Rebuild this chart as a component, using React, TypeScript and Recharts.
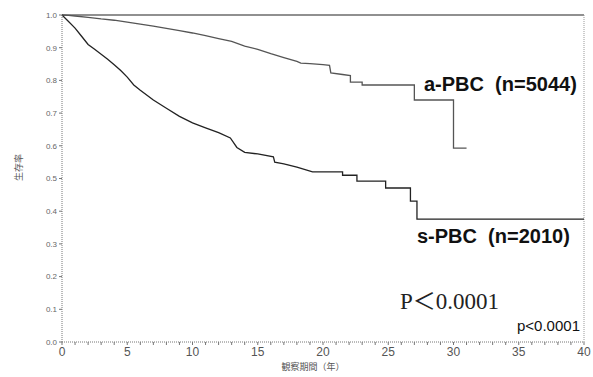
import { LineChart, Line, XAxis, YAxis, ReferenceLine } from 'recharts';

// a-PBC survival (years, proportion)
const aTime = [0, 0.5, 1, 2, 3, 4, 5, 6, 7, 8, 9, 10, 11, 12, 13, 14, 15, 16, 17, 18, 18.3, 19, 20, 20.5, 20.6, 21.5, 22.1, 22.1, 23.0, 23.0, 27.0, 27.0, 30.0, 30.0, 31.0];
const aSurv = [1.0, 0.999, 0.997, 0.993, 0.988, 0.984, 0.978, 0.972, 0.966, 0.959, 0.952, 0.945, 0.937, 0.928, 0.919, 0.905, 0.895, 0.882, 0.870, 0.858, 0.853, 0.851, 0.848, 0.846, 0.823, 0.818, 0.815, 0.795, 0.795, 0.786, 0.786, 0.74, 0.74, 0.593, 0.593];

// s-PBC survival
const sTime = [0, 0.5, 1, 1.5, 2, 2.5, 3, 3.5, 4, 4.5, 5, 5.5, 6, 7, 8, 9, 10, 11, 12, 12.9, 13.4, 14, 15, 16.2, 16.3, 17, 18, 19.2, 21.5, 21.5, 22.6, 22.6, 24.8, 24.8, 26.7, 26.7, 27.2, 27.2, 40];
const sSurv = [1.0, 0.98, 0.96, 0.935, 0.91, 0.895, 0.88, 0.865, 0.848, 0.83, 0.81, 0.786, 0.77, 0.74, 0.715, 0.69, 0.67, 0.655, 0.64, 0.624, 0.595, 0.58, 0.575, 0.566, 0.55, 0.545, 0.535, 0.52, 0.52, 0.51, 0.51, 0.492, 0.492, 0.471, 0.471, 0.431, 0.431, 0.376, 0.376];

const xTicks = Array.from({ length: 41 }, (_, i) => i);
const yTicks = [0, 0.1, 0.2, 0.3, 0.4, 0.5, 0.6, 0.7, 0.8, 0.9, 1.0];

const aData = aTime.map((t, i) => ({ t, s: aSurv[i] }));
const sData = sTime.map((t, i) => ({ t, s: sSurv[i] }));

const sans = '"Liberation Sans", Arial, sans-serif';
const cjk = '"Noto Sans CJK JP", sans-serif';

export default function App() {
    return (
        <div style={{ position: 'relative', width: 593, height: 377, background: '#fff', fontFamily: sans }}>
            <style>{'body{margin:0}'}</style>
            <LineChart width={593} height={377} margin={{ top: 15, right: 9, bottom: 0, left: 0 }}>
                <XAxis
                    type="number"
                    dataKey="t"
                    domain={[0, 40]}
                    ticks={xTicks}
                    interval={0}
                    height={35}
                    tickFormatter={(v) => (v % 5 === 0 ? String(v) : '')}
                    tick={{ fontSize: 12, fill: '#555' }}
                    tickSize={3}
                    stroke="#777"
                    axisLine={{ stroke: '#777', strokeDasharray: '1 1' }}
                />
                <YAxis
                    type="number"
                    domain={[0, 1]}
                    ticks={yTicks}
                    width={62}
                    tickFormatter={(v) => Number(v).toFixed(1)}
                    tick={{ fontSize: 8, fill: '#666' }}
                    tickSize={3}
                    stroke="#777"
                    axisLine={{ stroke: '#777', strokeDasharray: '1 1' }}
                />
                <ReferenceLine y={1} stroke="#222" strokeWidth={1.2} />
                <ReferenceLine x={40} stroke="#999" strokeDasharray="1 1" />
                <Line data={aData} dataKey="s" type="linear" stroke="#555" strokeWidth={1.3} dot={false} isAnimationActive={false} />
                <Line data={sData} dataKey="s" type="linear" stroke="#222" strokeWidth={1.3} dot={false} isAnimationActive={false} />
            </LineChart>
            <div style={{ position: 'absolute', left: 8, top: 152, width: 20, height: 30, display: 'flex', alignItems: 'center', justifyContent: 'center' }}>
                <span style={{ transform: 'rotate(-90deg)', fontSize: 9, color: '#555', fontFamily: cjk, whiteSpace: 'nowrap' }}>生存率</span>
            </div>
            <div style={{ position: 'absolute', left: 263, top: 361, width: 100, textAlign: 'center', fontSize: 9, color: '#555', fontFamily: cjk, lineHeight: '12px' }}>
                観察期間（年）
            </div>
            <div style={{ position: 'absolute', left: 424, top: 72, fontSize: 20, fontWeight: 'bold', color: '#111', whiteSpace: 'pre', lineHeight: '24px' }}>
                a-PBC  (n=5044)
            </div>
            <div style={{ position: 'absolute', left: 417, top: 224, fontSize: 20, fontWeight: 'bold', color: '#111', whiteSpace: 'pre', lineHeight: '24px' }}>
                s-PBC  (n=2010)
            </div>
            <div style={{ position: 'absolute', left: 400, top: 285, fontSize: 23, color: '#222', fontFamily: '"Liberation Serif", "Times New Roman", serif', whiteSpace: 'nowrap', lineHeight: '28px' }}>
                P<span style={{ fontFamily: cjk }}>＜</span>0.0001
            </div>
            <div style={{ position: 'absolute', left: 517, top: 317, fontSize: 15, color: '#111', lineHeight: '18px' }}>
                p&lt;0.0001
            </div>
        </div>
    );
}
